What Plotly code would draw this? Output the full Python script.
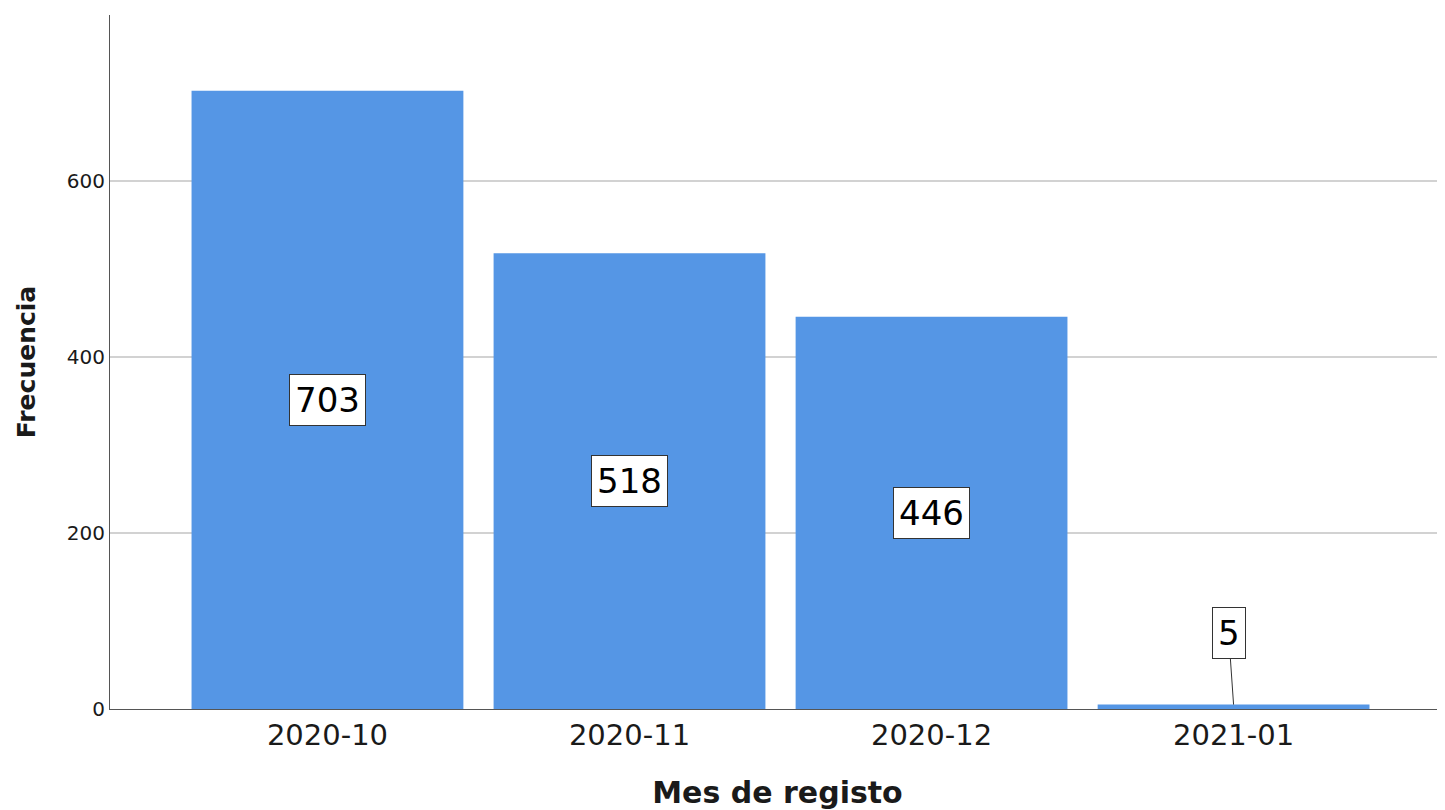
import plotly.graph_objects as go

months = ['2020-10', '2020-11', '2020-12', '2021-01']
counts = [703, 518, 446, 5]
y_ticks = [0, 200, 400, 600, 800]

bar_color = '#5596e5'
font_family = 'DejaVu Sans'

fig = go.Figure()
fig.add_trace(go.Bar(
    x=months,
    y=counts,
    marker=dict(color=bar_color, line=dict(width=0)),
    width=0.9,
    hoverinfo='x+y',
))

# boxed value labels in the middle of each bar; tiny bars get a leader line
for month, count in zip(months, counts):
    if count > 50:
        fig.add_annotation(
            x=month, y=count / 2, text=str(count), showarrow=False,
            font=dict(family=font_family, size=34, color='black'),
            bgcolor='white', bordercolor='#333333', borderwidth=1, borderpad=5,
        )
    else:
        fig.add_annotation(
            x=month, y=count, text=str(count), showarrow=True,
            arrowhead=0, arrowwidth=1, arrowcolor='#333333',
            ax=-5, ay=-72,
            font=dict(family=font_family, size=34, color='black'),
            bgcolor='white', bordercolor='#333333', borderwidth=1, borderpad=5,
        )

# page body has an 8px margin, so the figure is sized to fit the window
fig.update_layout(
    width=1437,
    height=802,
    margin=dict(l=102, r=0, t=7, b=101),
    plot_bgcolor='white',
    paper_bgcolor='white',
    showlegend=False,
    font=dict(family=font_family, color='black'),
    xaxis=dict(
        type='category',
        range=[-0.72, 3.7],
        automargin=False,
        showline=True, linecolor='#555555', linewidth=1,
        showgrid=False, ticks='',
        tickfont=dict(size=29, color='#1a1a1a'),
        title=dict(text='<b>Mes de registo</b>', font=dict(size=30, color='#1a1a1a'), standoff=31),
    ),
    yaxis=dict(
        range=[0, 789],
        tickvals=y_ticks,
        automargin=False,
        showline=True, linecolor='#555555', linewidth=1,
        showgrid=True, gridcolor='#d2d2d2', gridwidth=1.5,
        zeroline=False, ticks='',
        tickfont=dict(size=20, color='#1a1a1a'),
        title=dict(text='<b>Frecuencia</b>', font=dict(size=25, color='#1a1a1a'), standoff=24),
    ),
)

fig.write_html('out.html')
